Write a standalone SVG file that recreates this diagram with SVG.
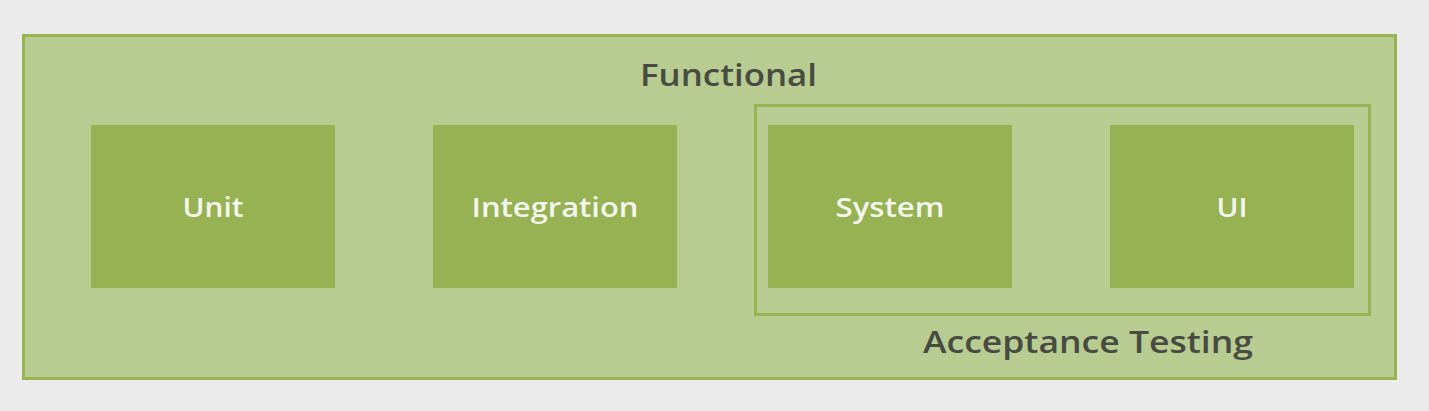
<svg xmlns="http://www.w3.org/2000/svg" width="1429" height="411" viewBox="0 0 1429 411">
<style>
.box{fill:#96b253;}
.lbl{font-family:"Open Sans","Liberation Sans",sans-serif;font-size:27px;font-weight:600;fill:#f4f6ee;text-anchor:middle;}
.cap{font-family:"Open Sans","Liberation Sans",sans-serif;font-size:31px;font-weight:600;fill:#474b42;}
</style>
<rect x="0" y="0" width="1429" height="411" fill="#ebebeb"/>
<g id="functional">
<rect x="23.5" y="35.5" width="1372" height="343" fill="#b8cb90" stroke="#97b452" stroke-width="3"/>
<text class="cap" x="640" y="86" textLength="177" lengthAdjust="spacingAndGlyphs">Functional</text>
</g>
<g id="acceptance">
<rect x="755.5" y="105.5" width="614" height="209" fill="none" stroke="#97b452" stroke-width="3"/>
<text class="cap" x="923" y="353" textLength="330" lengthAdjust="spacingAndGlyphs">Acceptance Testing</text>
</g>
<g id="unit"><rect class="box" x="91" y="125" width="244" height="163"/><text class="lbl" x="213" y="217" textLength="61" lengthAdjust="spacingAndGlyphs">Unit</text></g>
<g id="integration"><rect class="box" x="433" y="125" width="244" height="163"/><text class="lbl" x="555" y="217" textLength="167" lengthAdjust="spacingAndGlyphs">Integration</text></g>
<g id="system"><rect class="box" x="768" y="125" width="244" height="163"/><text class="lbl" x="890" y="217" textLength="109" lengthAdjust="spacingAndGlyphs">System</text></g>
<g id="ui"><rect class="box" x="1110" y="125" width="244" height="163"/><text class="lbl" x="1232" y="217" textLength="31" lengthAdjust="spacingAndGlyphs">UI</text></g>
<g id="connectors"></g>
</svg>
